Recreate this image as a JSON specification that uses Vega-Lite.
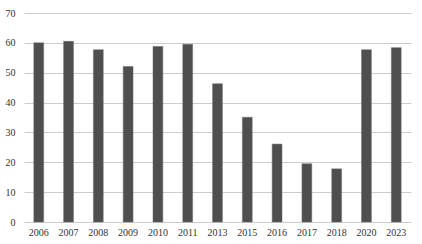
{
  "$schema": "https://vega.github.io/schema/vega-lite/v6.json",
  "autosize": "none",
  "width": 387,
  "height": 209,
  "padding": {"left": 24, "top": 13, "right": 11, "bottom": 22},
  "background": "white",
  "config": {
    "view": {"stroke": null},
    "font": "Liberation Serif",
    "axis": {"labelFont": "Liberation Serif", "labelColor": "#333333", "labelFontSize": 10}
  },
  "data": {"values": [
    {"year": "2006", "value": 60.0},
    {"year": "2007", "value": 60.5},
    {"year": "2008", "value": 57.7},
    {"year": "2009", "value": 52.1},
    {"year": "2010", "value": 58.8},
    {"year": "2011", "value": 59.5},
    {"year": "2013", "value": 46.3},
    {"year": "2015", "value": 35.1},
    {"year": "2016", "value": 26.1},
    {"year": "2017", "value": 19.5},
    {"year": "2018", "value": 17.8},
    {"year": "2020", "value": 57.7},
    {"year": "2023", "value": 58.4}
  ]},
  "mark": {"type": "bar", "color": "#4f4f4f", "stroke": "#6a6a6a", "strokeWidth": 0.5},
  "encoding": {
    "x": {
      "field": "year", "type": "ordinal", "title": null,
      "scale": {"paddingInner": 0.67, "paddingOuter": 0.33},
      "axis": {"labelAngle": 0, "domain": false, "ticks": false, "labelPadding": 5, "grid": false}
    },
    "y": {
      "field": "value", "type": "quantitative", "title": null,
      "scale": {"domain": [0, 70], "nice": false},
      "axis": {"values": [0, 10, 20, 30, 40, 50, 60, 70], "domain": false, "ticks": false, "labelPadding": 9, "gridColor": "#cccccc", "gridWidth": 1}
    }
  }
}
